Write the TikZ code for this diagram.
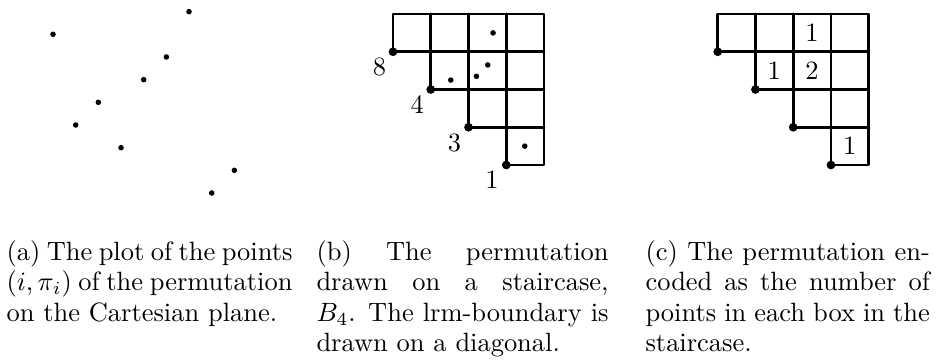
\documentclass[tikz,border=0pt]{standalone}
\begin{document}
\begin{tikzpicture}[x=0.378pt,y=-0.378pt,
  stairline/.style={line width=1.1pt,line cap=round,line join=round},
  dotpt/.style={circle,fill=black,inner sep=0pt,minimum size=2.1pt},
  cornerdot/.style={circle,fill=black,inner sep=0pt,minimum size=3.3pt},
  labtxt/.style={inner sep=0pt,font=\fontsize{10}{12}\selectfont},
  captxt/.style={inner sep=0pt,anchor=base west,align=justify,font=\fontsize{10}{11.45}\selectfont}]
\useasboundingbox (0,0) rectangle (938,361);
% ---- panel (a)
\foreach \i/\v in {1/8,2/4,3/5,4/3,5/6,6/7,7/9,8/1,9/2}
  \node[dotpt] (a\i) at ({53+22.67*(\i-1)},{193-22.67*(\v-1)}) {};
% ---- panel (b)
\begin{scope}[shift={(393,14)},x=14.27pt,y=-14.27pt]
  \draw[stairline] (0,1) -- (0,0) -- (4,0) -- (4,4) -- (3,4) -- (3,0);
  \draw[stairline] (0,1) -- (4,1);
  \draw[stairline] (1,0) -- (1,2) -- (4,2);
  \draw[stairline] (2,0) -- (2,3) -- (4,3);
  \foreach \k in {0,1,2,3} \node[cornerdot] (bc\k) at (\k,\k+1) {};
  \node[labtxt] (l8) at (-0.36,1.40) {8};
  \node[labtxt] (l4) at (0.64,2.41) {4};
  \node[labtxt] (l3) at (1.63,3.41) {3};
  \node[labtxt] (l1) at (2.62,4.40) {1};
  \node[dotpt] (p1) at (2.65,0.50) {};
  \node[dotpt] (p2) at (2.51,1.35) {};
  \node[dotpt] (p3) at (2.21,1.65) {};
  \node[dotpt] (p4) at (1.53,1.75) {};
  \node[dotpt] (p5) at (3.49,3.50) {};
\end{scope}
% ---- panel (c)
\begin{scope}[shift={(717.7,14)},x=14.27pt,y=-14.27pt]
  \draw[stairline] (0,1) -- (0,0) -- (4,0) -- (4,4) -- (3,4) -- (3,0);
  \draw[stairline] (0,1) -- (4,1);
  \draw[stairline] (1,0) -- (1,2) -- (4,2);
  \draw[stairline] (2,0) -- (2,3) -- (4,3);
  \foreach \k in {0,1,2,3} \node[cornerdot] (cc\k) at (\k,\k+1) {};
  \node[labtxt] (n1) at (2.5,0.5) {1};
  \node[labtxt] (n2) at (1.5,1.5) {1};
  \node[labtxt] (n3) at (2.5,1.5) {2};
  \node[labtxt] (n4) at (3.5,3.5) {1};
\end{scope}
% ---- captions
\node[captxt,text width=108.1pt] (capa) at (6,260.7)
  {(a) The plot of the points\linebreak $(i,\pi_i)$ of the permutation\linebreak on the Cartesian plane.};
\node[captxt,text width=110.4pt] (capb) at (316,260.7)
  {(b) The permutation\linebreak drawn on a staircase,\linebreak $B_4$. The lrm-boundary is\linebreak drawn on a diagonal.};
\node[captxt,text width=107.5pt] (capc) at (645,260.7)
  {(c) The permutation en-\linebreak coded as the number of\linebreak points in each box in the\linebreak staircase.};
\end{tikzpicture}
\end{document}
